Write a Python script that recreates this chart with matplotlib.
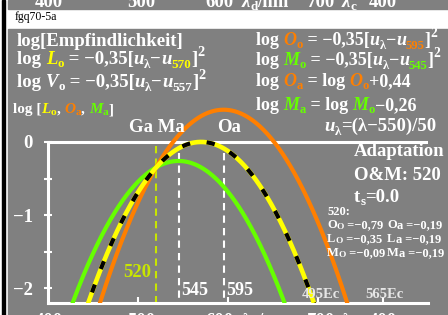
import matplotlib
matplotlib.use('Agg')
import matplotlib.pyplot as plt
import numpy as np
from matplotlib.patches import Rectangle

W, H = 448, 315

# curve parameters (log sensitivity = offset - 0.35*(u - u_peak)^2)
curve_names = ['Lo', 'Oa', 'Ma']
peak_nm = [570, 595, 545]
peak_offset = [0.0, 0.44, -0.26]
coef = 0.35
curve_colors = ['#ffff00', '#ff7f00', '#66ff00']

adapt_nm = 520
mark_nm = [545, 595]
ytick_major = [0, -1, -2]
ytick_minor = [-0.5, -1.5]
xtick_nm = [500, 600, 700, 772]
band_labels = ['400', '500', '600', '700', '400']
band_x = [35, 127, 205, 307, 369]

GRAY = '#808080'
WHITE = '#ffffff'
YG = '#c8e600'
FONT = 'Liberation Serif'

plt.rcParams['font.family'] = FONT
plt.rcParams['font.weight'] = 'bold'

fig = plt.figure(figsize=(W / 100, H / 100), dpi=100, facecolor='white')
r = fig.canvas.get_renderer()


def px(x, y):
    return x / W, 1 - y / H


def seq(x, y, parts, size=13.5, weight='bold'):
    # draws text pieces one after another: (text, color, size factor, italic, dy)
    for s, c, f, it, dy in parts:
        t = fig.text(x / W, 1 - (y + dy) / H, s, color=c, fontsize=size * f,
                     fontstyle='italic' if it else 'normal', fontweight=weight,
                     family=FONT, va='baseline', ha='left')
        x = t.get_window_extent(r).x1
    return x


# background pieces
fig.patches.append(Rectangle(px(8, 315), (W - 8) / W, (315 - 29) / H,
                             transform=fig.transFigure, color=GRAY, zorder=-2))
fig.patches.append(Rectangle(px(8, 9), (W - 8) / W, 9 / H,
                             transform=fig.transFigure, color=GRAY, zorder=-2))
fig.patches.append(Rectangle(px(2, 315), 3 / W, 1,
                             transform=fig.transFigure, color='black', zorder=-2))

ax = fig.add_axes([48 / W, (315 - 303) / H, 380 / W, (303 - 98) / H])
ax.set_zorder(1)
ax.patch.set_visible(False)
ax.set_xlim(400, 822)
ax.set_ylim(-2.2, 0.6)
for s in ['top', 'right']:
    ax.spines[s].set_visible(False)
for s in ['left', 'bottom']:
    ax.spines[s].set_color(WHITE)
    ax.spines[s].set_linewidth(2.2)
ax.spines['left'].set_bounds(-2.2, 0)
ax.plot([400, 822], [0, 0], color=WHITE, lw=2.2, zorder=2.6, solid_capstyle='butt')

ax.set_yticks(ytick_major)
ax.set_yticks(ytick_minor, minor=True)
ax.set_yticklabels(['0', '\u22121', '\u22122'])
ax.tick_params(axis='y', which='both', direction='inout', length=6, width=1.5,
               color=WHITE, labelcolor=WHITE, labelsize=13.5, pad=8)
ax.set_xticks(xtick_nm)
ax.tick_params(axis='x', direction='in', length=4, width=1.5, color=WHITE,
               labelbottom=False)

# dashed markers
ax.plot([adapt_nm, adapt_nm], [-0.05, -2.2], color=YG, lw=1.5,
        linestyle=(0, (3.5, 2.5)), zorder=2)
for m in mark_nm:
    ax.plot([m, m], [-0.15, -2.2], color=WHITE, lw=1.5,
            linestyle=(0, (3.5, 2.5)), zorder=2)

lam = np.linspace(400, 822, 500)
u = (lam - 550) / 50
curves = {}
for name, p, o in zip(curve_names, peak_nm, peak_offset):
    curves[name] = o - coef * (u - (p - 550) / 50) ** 2

ax.plot(lam, curves['Ma'], color=curve_colors[2], lw=3, zorder=3)
ax.plot(lam, curves['Oa'], color=curve_colors[1], lw=3, zorder=3)
ax.plot(lam, curves['Lo'], color=curve_colors[0], lw=3.3, zorder=3)
ax.plot(lam, curves['Lo'], color='black', lw=3, zorder=3.1,
        linestyle=(0, (2, 4)))

# top and bottom cut labels (neighbouring tiles)
for lab, x in zip(band_labels, band_x):
    fig.text(x / W, 1 - 7 / H, lab, color=WHITE, fontsize=13.5, va='baseline')
    fig.text(x / W, 1 - 326 / H, lab, color=WHITE, fontsize=13.5, va='baseline')
for yb in [7, 326]:
    seq(242, yb, [('\u03bb', WHITE, 1, True, 0), ('d', WHITE, 0.7, False, 3),
                  ('/nm', WHITE, 1, False, 0)])
    seq(342, yb, [('\u03bb', WHITE, 1, True, 0), ('c', WHITE, 0.7, False, 3)])

fig.text(15 / W, 1 - 20 / H, 'fgq70-5a', color='black', fontsize=8.5,
         fontweight='normal', va='baseline')

# header formulas
Y, O, G = curve_colors
seq(17, 46, [('log[Empfindlichkeit]', WHITE, 1, False, 0)])


def quad(x, y, sym, col, sub, num, numcol, size=13.5):
    seq(x, y, [('log ', WHITE, 1, False, 0), (sym, col, 1, True, 0),
               (sub, col, 0.7, False, 3), (' = \u22120,35[', WHITE, 1, False, 0),
               ('u', WHITE, 1, True, 0), ('\u03bb', WHITE, 0.7, False, 4),
               ('\u2212', WHITE, 1, False, 0), ('u', WHITE, 1, True, 0),
               (num, numcol, 0.7, False, 4), (']', WHITE, 1, False, 0),
               ('2', WHITE, 0.75, False, -8)], size=size)


quad(17, 64, 'L', Y, 'o', '570', Y)
quad(17, 87, 'V', WHITE, 'o', '557', WHITE)
quad(256, 45, 'O', O, 'o', '595', O, size=13)
quad(256, 65, 'M', G, 'o', '545', G, size=13)
seq(13, 113, [('log [', WHITE, 1, False, 0), ('L', Y, 1, True, 0), ('o', Y, 0.75, False, 2),
              (', ', WHITE, 1, False, 0), ('O', O, 1, True, 0), ('a', O, 0.75, False, 2),
              (', ', WHITE, 1, False, 0), ('M', G, 1, True, 0), ('a', G, 0.75, False, 2),
              (']', WHITE, 1, False, 0)], size=11)
seq(256, 86, [('log ', WHITE, 1, False, 0), ('O', O, 1, True, 0), ('a', O, 0.7, False, 3),
              (' = log ', WHITE, 1, False, 0), ('O', O, 1, True, 0), ('o', O, 0.7, False, 3),
              ('+0,44', WHITE, 1, False, 0)], size=13)
seq(256, 110, [('log ', WHITE, 1, False, 0), ('M', G, 1, True, 0), ('a', G, 0.7, False, 3),
               (' = log ', WHITE, 1, False, 0), ('M', G, 1, True, 0), ('o', G, 0.7, False, 3),
               ('\u22120,26', WHITE, 1, False, 0)], size=13)
seq(324, 131, [('u', WHITE, 1, True, 0), ('\u03bb', WHITE, 0.7, False, 4),
               ('=(\u03bb\u2212550)/50', WHITE, 1, False, 0)])

fig.text(129 / W, 1 - 132 / H, 'Ga Ma', color=WHITE, fontsize=13.5, va='baseline')
fig.text(217 / W, 1 - 132 / H, 'Oa', color=WHITE, fontsize=13.5, va='baseline')
fig.text(123 / W, 1 - 277 / H, '520', color=YG, fontsize=13.5, va='baseline')
fig.text(181 / W, 1 - 295 / H, '545', color=WHITE, fontsize=13, va='baseline')
fig.text(226 / W, 1 - 295 / H, '595', color=WHITE, fontsize=13, va='baseline')
fig.text(302 / W, 1 - 298 / H, '495Ec', color='#e6e6e6', fontsize=10.5, va='baseline')
fig.text(365 / W, 1 - 298 / H, '565Ec', color='#e6e6e6', fontsize=10.5, va='baseline')

# adaptation block
fig.text(354 / W, 1 - 156 / H, 'Adaptation', color=WHITE, fontsize=13.5, va='baseline')
fig.text(354 / W, 1 - 180 / H, 'O&M: 520', color=WHITE, fontsize=13.5, va='baseline')
seq(354, 202, [('t', WHITE, 1, False, 0), ('s', WHITE, 0.7, False, 3),
               ('=0.0', WHITE, 1, False, 0)])
fig.text(327 / W, 1 - 215 / H, '520:', color=WHITE, fontsize=9, va='baseline')
rows = [('O', 'O', '\u22120,79', 'O', 'a', '\u22120,19'),
        ('L', 'O', '\u22120,35', 'L', 'a', '\u22120,19'),
        ('M', 'O', '\u22120,09', 'M', 'a', '\u22120,19')]
for i, (a, b, v1, c, d, v2) in enumerate(rows):
    yb = 228 + 14 * i
    seq(327, yb, [(a, WHITE, 1, False, 0), (b, WHITE, 0.75, False, 1),
                  (' =' + v1, WHITE, 1, False, 0)], size=9)
    seq(387, yb, [(c, WHITE, 1, False, 0), (d, WHITE, 1, False, 1),
                  (' =' + v2, WHITE, 1, False, 0)], size=9)

fig.savefig('out.png', dpi=100)
